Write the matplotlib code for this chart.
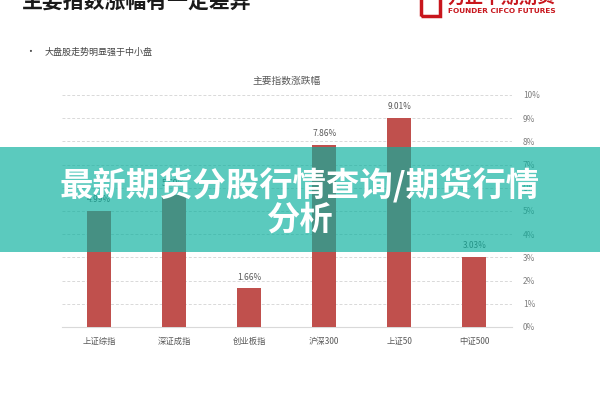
import matplotlib.pyplot as plt
from matplotlib.patches import Rectangle
from matplotlib.ticker import FuncFormatter

plt.rcParams['font.family'] = ['Noto Sans CJK SC', 'DejaVu Sans']

categories = ['上证综指', '深证成指', '创业板指', '沪深300', '上证50', '中证500']
changes = [4.99, 5.69, 1.66, 7.86, 9.01, 3.03]
yticks = [0, 1, 2, 3, 4, 5, 6, 7, 8, 9, 10]

page_title = '主要指数涨幅有一定差异'
bullet_text = '大盘股走势明显强于中小盘'
chart_title = '主要指数涨跌幅'
banner_text = '最新期货分股行情查询/期货行情\n分析'

bar_color = '#c0504d'
grey = '#7f7f7f'

fig = plt.figure(figsize=(6, 4), dpi=100)
fig.patch.set_facecolor('white')

ax = fig.add_axes([0.103, 0.1825, 0.75, 0.58])
x = list(range(len(categories)))
ax.bar(x, changes, width=0.32, color=bar_color, zorder=3)
for xi, v in zip(x, changes):
    ax.text(xi, v + 0.3, f'{v:.2f}%', ha='center', va='bottom',
            fontsize=6, color='#595959')

ax.set_xlim(-0.5, 5.5)
ax.set_ylim(0, 10)
ax.set_xticks(x)
ax.set_xticklabels(categories, fontsize=6, color='#595959')
ax.yaxis.tick_right()
ax.set_yticks(yticks)
ax.yaxis.set_major_formatter(FuncFormatter(lambda v, p: f'{v:.0f}%'))
ax.tick_params(axis='y', length=0, labelsize=6, labelcolor=grey, pad=8)
ax.tick_params(axis='x', length=0, pad=7)
ax.grid(axis='y', linestyle=(0, (3, 2)), color='#d9d9d9', linewidth=0.7, zorder=0)
for s in ['top', 'left', 'right']:
    ax.spines[s].set_visible(False)
ax.spines['bottom'].set_color('#d9d9d9')
ax.set_title(chart_title, fontsize=7, color='#595959', pad=8)

# slide texts
fig.text(22 / 600, 1 - 1 / 400, page_title, fontsize=15, fontweight='bold',
         color='#1a1a1a', ha='left', va='center')
fig.text(25 / 600, 1 - 52 / 400, '•', fontsize=7, color='#444444', va='center')
fig.text(45 / 600, 1 - 52 / 400, bullet_text, fontsize=6.5, color='#444444', va='center')

# logo
fig.add_artist(Rectangle((421 / 600, 1 - 16 / 400), 19 / 600, 22 / 400,
                         fill=False, edgecolor='#c8161d', linewidth=2.5))
fig.text(447 / 600, 1 + 3 / 400, '方正中期期货', fontsize=13, fontweight='bold',
         color='#c8161d', ha='left', va='center')
fig.text(448 / 600, 1 - 11 / 400, 'FOUNDER CIFCO FUTURES', fontsize=5.3,
         fontweight='bold', color='#c8161d', ha='left', va='center',
         family='DejaVu Sans')

# overlay banner
fig.add_artist(Rectangle((0, 1 - 252 / 400), 1, 105 / 400,
                         facecolor=(0.04, 0.69, 0.62), alpha=0.67,
                         edgecolor='none', zorder=10))
fig.text(0.5, 1 - 202 / 400, banner_text, fontsize=24, fontweight='bold',
         color='white', ha='center', va='center', linespacing=1.0, zorder=11)

fig.savefig('out.png', dpi=100)
